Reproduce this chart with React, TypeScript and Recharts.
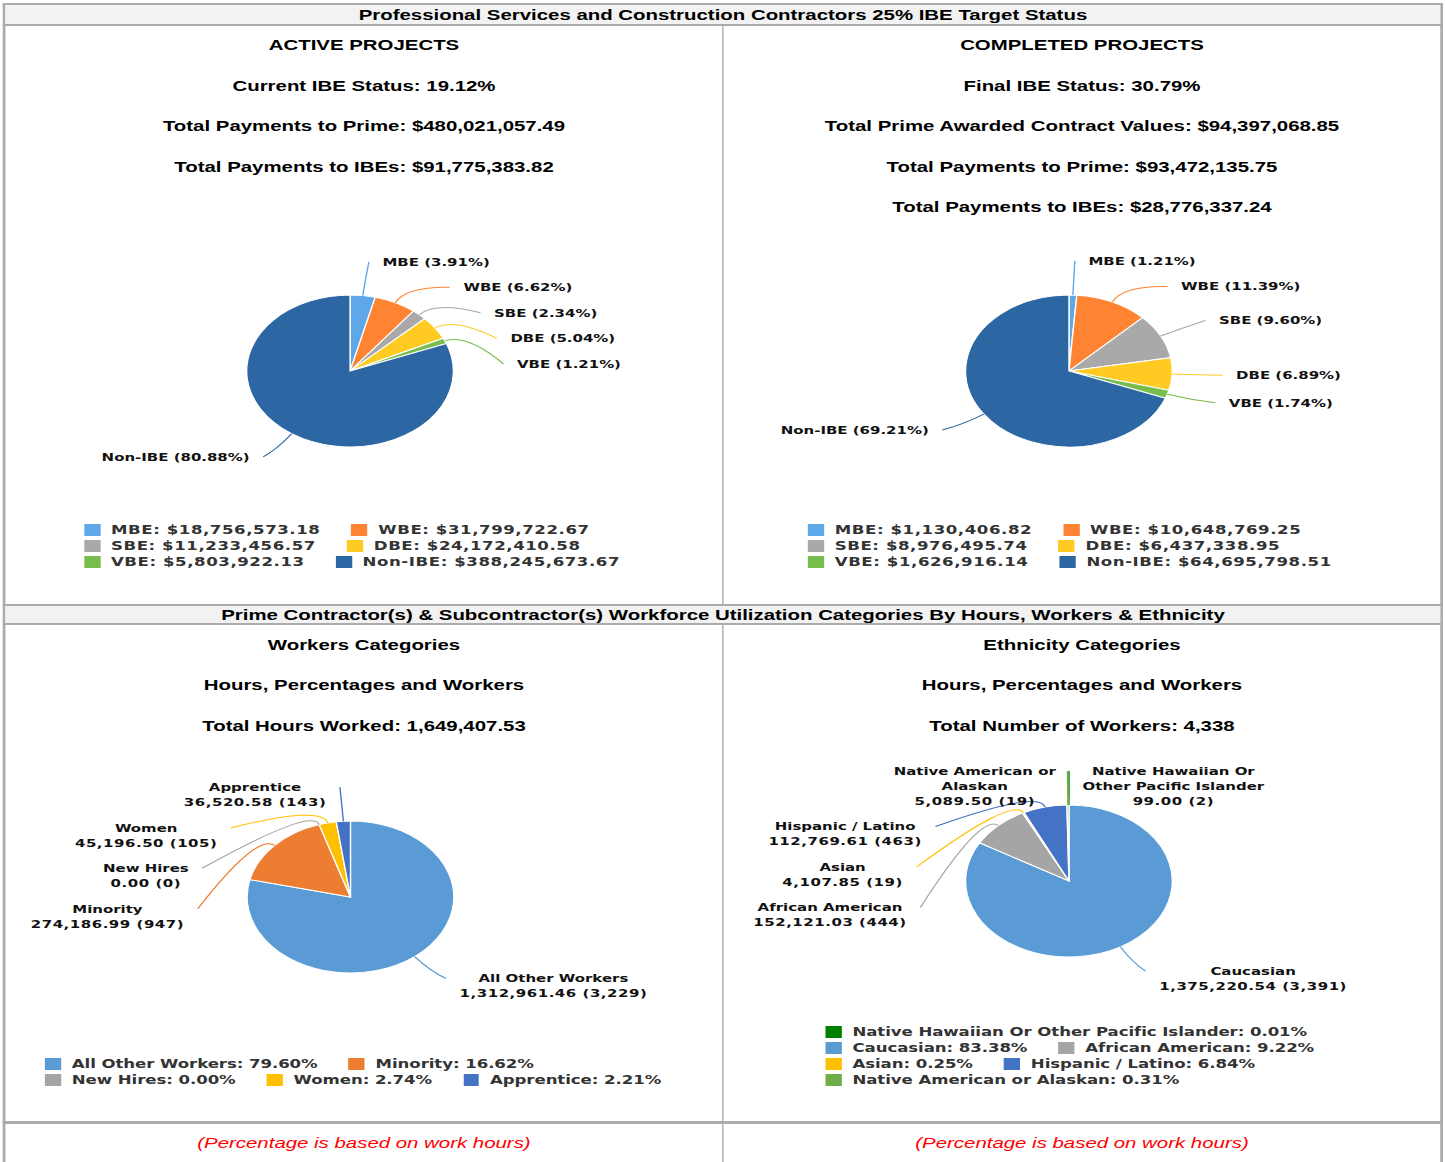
import React from "react";
import { PieChart, Pie, Cell, Legend } from "recharts";

// the whole sheet is drawn narrow and stretched sideways, like the source image
const SX = 1.36;
const W = 1445 / SX;
const RAD = Math.PI / 180;
const LRX = 113; // label ring, horizontal radius
const LRY_TOP = 110; // label ring, vertical radius above centre
const LRY_BOT = 104; // label ring, vertical radius below centre
const LH = 15; // label line height

const ibeNames = ["MBE", "WBE", "SBE", "DBE", "VBE", "Non-IBE"];
const ibeColors = ["#5ea7e8", "#fe8433", "#a9a9a9", "#ffca21", "#76bd4b", "#2d67a3"];

const activeAmounts = [18756573.18, 31799722.67, 11233456.57, 24172410.58, 5803922.13, 388245673.67];
const activePct = ["3.91%", "6.62%", "2.34%", "5.04%", "1.21%", "80.88%"];

const completedAmounts = [1130406.82, 10648769.25, 8976495.74, 6437338.95, 1626916.14, 64695798.51];
const completedPct = ["1.21%", "11.39%", "9.60%", "6.89%", "1.74%", "69.21%"];

const workerNames = ["All Other Workers", "Minority", "New Hires", "Women", "Apprentice"];
const workerHours = [1312961.46, 274186.99, 0, 45196.5, 36520.58];
const workerCounts = [3229, 947, 0, 105, 143];
const workerPct = ["79.60%", "16.62%", "0.00%", "2.74%", "2.21%"];
const workerColors = ["#5b9bd5", "#ed7d31", "#a5a5a5", "#ffc000", "#4472c4"];

const ethnicNames = [
  "Native Hawaiian Or Other Pacific Islander",
  "Caucasian",
  "African American",
  "Asian",
  "Hispanic / Latino",
  "Native American or Alaskan",
];
const ethnicHours = [99.0, 1375220.54, 152121.03, 4107.85, 112769.61, 5089.5];
const ethnicCounts = [2, 3391, 444, 19, 463, 19];
const ethnicPct = ["0.01%", "83.38%", "9.22%", "0.25%", "6.84%", "0.31%"];
const ethnicColors = ["#008000", "#5b9bd5", "#a5a5a5", "#ffc000", "#4472c4", "#70ad47"];

const money = (v: number) =>
  v.toLocaleString("en-US", { minimumFractionDigits: 2, maximumFractionDigits: 2 });
const count = (v: number) => v.toLocaleString("en-US");

function textWidth(s: string, size: number, spacing = 0) {
  let w = 0;
  for (const ch of s) {
    if (/[0-9]/.test(ch)) w += 0.696;
    else if (ch === " ") w += 0.348;
    else if (ch === "," || ch === ".") w += 0.38;
    else if (ch === "(" || ch === ")") w += 0.457;
    else if (ch === "%") w += 1.002;
    else if (ch === "/") w += 0.365;
    else if ("iljt".includes(ch)) w += 0.38;
    else if ("mw".includes(ch)) w += 0.98;
    else if ("rf".includes(ch)) w += 0.47;
    else if (ch === "I") w += 0.372;
    else if ("MW".includes(ch)) w += 1.03;
    else if (ch >= "A" && ch <= "Z") w += 0.77;
    else w += 0.66;
  }
  return w * size + spacing * s.length;
}

function wrapName(name: string, max = 22) {
  const out: string[] = [];
  let cur = "";
  name.split(" ").forEach((wd) => {
    const next = cur ? cur + " " + wd : wd;
    if (next.length > max && cur) {
      out.push(cur);
      cur = wd;
    } else cur = next;
  });
  if (cur) out.push(cur);
  return out;
}

type Slot = { dx: number; dy: number; side: number; lines: string[] };

const ringX = (dy: number, side: number) => {
  const ry = dy < 0 ? LRY_TOP : LRY_BOT;
  const t = dy / ry;
  return side * LRX * Math.sqrt(Math.max(0, 1 - t * t));
};

// spread the labels around a ring and push them apart on each side
function layoutLabels(values: number[], lines: string[][]): Slot[] {
  const total = values.reduce((a, b) => a + b, 0);
  let acc = 0;
  const slots = values.map((v, i) => {
    const phi = ((acc + v / 2) / total) * 2 * Math.PI;
    acc += v;
    const c = Math.cos(phi);
    return {
      dx: LRX * Math.sin(phi),
      dy: -(c > 0 ? LRY_TOP : LRY_BOT) * c,
      side: Math.sin(phi) >= 0 ? 1 : -1,
      lines: lines[i],
    };
  });
  [1, -1].forEach((side) => {
    const group = slots.filter((s) => s.side === side).sort((a, b) => a.dy - b.dy);
    for (let k = 1; k < group.length; k++) {
      const prev = group[k - 1];
      const minY = prev.dy + prev.lines.length * LH + 10.5;
      if (group[k].dy < minY) {
        group[k].dy = minY;
        group[k].dx = ringX(minY, side);
      }
    }
  });
  return slots;
}

const makeLabel = (slots: Slot[], colors: string[]) => (props: any) => {
  const { cx, cy, midAngle, outerRadius, index } = props;
  const s = slots[index];
  const a = -midAngle * RAD;
  const x0 = cx + outerRadius * Math.cos(a);
  const y0 = cy + outerRadius * Math.sin(a);
  const x1 = cx + (outerRadius + 18) * Math.cos(a);
  const y1 = cy + (outerRadius + 18) * Math.sin(a);
  const ex = cx + s.dx;
  const ey = cy + s.dy;
  const single = s.lines.length === 1;
  const spacingOf = (k: number) => (!single && k === s.lines.length - 1 ? 0.4 : 0);
  const blockW = Math.max(...s.lines.map((l, k) => textWidth(l, 11, spacingOf(k))));
  const tx = single ? ex + s.side * 10 : ex + s.side * (10 + blockW / 2);
  return (
    <g key={`lab-${index}`}>
      <path
        d={`M${x0},${y0} Q${x1},${y1} ${ex},${ey}`}
        fill="none"
        stroke={colors[index]}
        strokeWidth={1}
      />
      {s.lines.map((l, k) => (
        <text
          key={k}
          x={tx}
          y={ey + k * LH}
          textAnchor={single ? (s.side > 0 ? "start" : "end") : "middle"}
          dominantBaseline="central"
          fontFamily="DejaVu Sans"
          fontWeight="bold"
          fontSize={11}
          letterSpacing={spacingOf(k)}
          fill="#111"
        >
          {l}
        </text>
      ))}
    </g>
  );
};

function LegendBox({
  items,
  width,
  spacing,
}: {
  items: { label: string; color: string }[];
  width: number;
  spacing: number;
}) {
  return (
    <div
      style={{
        width,
        display: "flex",
        flexWrap: "wrap",
        columnGap: 22.8,
        fontFamily: "DejaVu Sans",
        fontWeight: "bold",
        fontSize: 12.2,
        letterSpacing: spacing,
        color: "#333",
      }}
    >
      {items.map((it) => (
        <div
          key={it.label}
          style={{ display: "flex", alignItems: "center", height: 16, whiteSpace: "nowrap" }}
        >
          <span
            style={{ display: "inline-block", width: 11.8, height: 12, background: it.color, marginRight: 8 }}
          />
          {it.label}
        </div>
      ))}
    </div>
  );
}

type BlockProps = {
  left: number;
  top: number;
  height: number;
  cx: number;
  cy: number;
  names: string[];
  values: number[];
  colors: string[];
  labelLines: string[][];
  legendLabels: string[];
  legendLeft: number;
  legendTop: number;
  legendWidth: number;
  legendSpacing: number;
};

function PieBlock(p: BlockProps) {
  const data = p.names.map((name, i) => ({ name, value: p.values[i] }));
  const slots = layoutLabels(p.values, p.labelLines);
  const items = p.legendLabels.map((label, i) => ({ label, color: p.colors[i] }));
  return (
    <div style={{ position: "absolute", left: p.left, top: p.top }}>
      <PieChart width={531} height={p.height} margin={{ top: 0, right: 0, bottom: 0, left: 0 }}>
        <Pie
          data={data}
          dataKey="value"
          nameKey="name"
          cx={p.cx}
          cy={p.cy}
          outerRadius={76}
          startAngle={90}
          endAngle={-270}
          stroke="#fff"
          strokeWidth={1}
          label={makeLabel(slots, p.colors)}
          labelLine={false}
          isAnimationActive={false}
        >
          {data.map((d, i) => (
            <Cell key={`cell-${i}`} fill={p.colors[i]} />
          ))}
        </Pie>
        <Legend
          content={() => <LegendBox items={items} width={p.legendWidth} spacing={p.legendSpacing} />}
          wrapperStyle={{ left: p.legendLeft, top: p.legendTop, width: p.legendWidth }}
        />
      </PieChart>
    </div>
  );
}

const GREY = "#ababab";

const Bar = ({ l, t, w, h, c = GREY }: { l: number; t: number; w: number; h: number; c?: string }) => (
  <div style={{ position: "absolute", left: l, top: t, width: w, height: h, background: c }} />
);

const Txt = ({
  x0,
  x1,
  y,
  children,
  style,
}: {
  x0: number;
  x1: number;
  y: number;
  children: React.ReactNode;
  style?: React.CSSProperties;
}) => (
  <div
    style={{
      position: "absolute",
      left: x0,
      width: x1 - x0,
      top: y - 10,
      lineHeight: "20px",
      textAlign: "center",
      fontWeight: "bold",
      fontSize: 15,
      whiteSpace: "nowrap",
      ...style,
    }}
  >
    {children}
  </div>
);

const L0 = 4.4;
const MID0 = 530.9;
const MID1 = 532.4;
const R0 = 1058.8;

export default function App() {
  const ibeLabels = (pct: string[]) => ibeNames.map((n, i) => [`${n} (${pct[i]})`]);
  const footer: React.CSSProperties = { fontWeight: "normal", fontStyle: "italic", color: "#ff0000" };
  return (
    <div
      style={{
        position: "absolute",
        left: 0,
        top: 0,
        width: W,
        height: 1162,
        overflow: "hidden",
        transform: `scaleX(${SX})`,
        transformOrigin: "0 0",
        background: "#fff",
        fontFamily: '"Liberation Sans", Arial, sans-serif',
        color: "#000",
      }}
    >
      {/* frame */}
      <Bar l={2.2} t={3} w={2.2} h={1159} />
      <Bar l={R0} t={3} w={2.2} h={1159} />
      <Bar l={2.2} t={3} w={R0} h={2} />
      <Bar l={L0} t={5} w={R0 - L0} h={19} c="#f2f2f2" />
      <Bar l={2.2} t={24} w={R0} h={2} />
      <Bar l={MID0} t={26} w={1.5} h={578} />
      <Bar l={2.2} t={604} w={R0} h={2} />
      <Bar l={L0} t={606} w={R0 - L0} h={17} c="#f2f2f2" />
      <Bar l={2.2} t={623} w={R0} h={2} />
      <Bar l={MID0} t={625} w={1.5} h={497} />
      <Bar l={2.2} t={1121} w={R0} h={3} />
      <Bar l={MID0} t={1124} w={1.5} h={38} />

      <Txt x0={L0} x1={R0} y={15}>
        Professional Services and Construction Contractors 25% IBE Target Status
      </Txt>
      <Txt x0={L0} x1={R0} y={615}>
        Prime Contractor(s) &amp; Subcontractor(s) Workforce Utilization Categories By Hours, Workers &amp; Ethnicity
      </Txt>

      <Txt x0={L0} x1={MID0} y={45}>ACTIVE PROJECTS</Txt>
      <Txt x0={L0} x1={MID0} y={86}>Current IBE Status: 19.12%</Txt>
      <Txt x0={L0} x1={MID0} y={126}>Total Payments to Prime: $480,021,057.49</Txt>
      <Txt x0={L0} x1={MID0} y={167}>Total Payments to IBEs: $91,775,383.82</Txt>

      <Txt x0={MID1} x1={R0} y={45}>COMPLETED PROJECTS</Txt>
      <Txt x0={MID1} x1={R0} y={86}>Final IBE Status: 30.79%</Txt>
      <Txt x0={MID1} x1={R0} y={126}>Total Prime Awarded Contract Values: $94,397,068.85</Txt>
      <Txt x0={MID1} x1={R0} y={167}>Total Payments to Prime: $93,472,135.75</Txt>
      <Txt x0={MID1} x1={R0} y={207}>Total Payments to IBEs: $28,776,337.24</Txt>

      <Txt x0={L0} x1={MID0} y={645}>Workers Categories</Txt>
      <Txt x0={L0} x1={MID0} y={685}>Hours, Percentages and Workers</Txt>
      <Txt x0={L0} x1={MID0} y={726}>Total Hours Worked: 1,649,407.53</Txt>

      <Txt x0={MID1} x1={R0} y={645}>Ethnicity Categories</Txt>
      <Txt x0={MID1} x1={R0} y={685}>Hours, Percentages and Workers</Txt>
      <Txt x0={MID1} x1={R0} y={726}>Total Number of Workers: 4,338</Txt>

      <Txt x0={L0} x1={MID0} y={1143} style={footer}>(Percentage is based on work hours)</Txt>
      <Txt x0={MID1} x1={R0} y={1143} style={footer}>(Percentage is based on work hours)</Txt>

      <PieBlock
        left={0}
        top={230}
        height={360}
        cx={257.4}
        cy={141}
        names={ibeNames}
        values={activeAmounts}
        colors={ibeColors}
        labelLines={ibeLabels(activePct)}
        legendLabels={ibeNames.map((n, i) => `${n}: $${money(activeAmounts[i])}`)}
        legendLeft={61.8}
        legendTop={292}
        legendWidth={470}
        legendSpacing={0.42}
      />
      <PieBlock
        left={531}
        top={230}
        height={360}
        cx={255}
        cy={141}
        names={ibeNames}
        values={completedAmounts}
        colors={ibeColors}
        labelLines={ibeLabels(completedPct)}
        legendLabels={ibeNames.map((n, i) => `${n}: $${money(completedAmounts[i])}`)}
        legendLeft={63}
        legendTop={292}
        legendWidth={470}
        legendSpacing={0.42}
      />
      <PieBlock
        left={0}
        top={760}
        height={350}
        cx={257.7}
        cy={137}
        names={workerNames}
        values={workerHours}
        colors={workerColors}
        labelLines={workerNames.map((n, i) => [
          ...wrapName(n),
          `${money(workerHours[i])} (${count(workerCounts[i])})`,
        ])}
        legendLabels={workerNames.map((n, i) => `${n}: ${workerPct[i]}`)}
        legendLeft={33}
        legendTop={296}
        legendWidth={470}
        legendSpacing={-0.05}
      />
      <PieBlock
        left={531}
        top={740}
        height={370}
        cx={255}
        cy={141}
        names={ethnicNames}
        values={ethnicHours}
        colors={ethnicColors}
        labelLines={ethnicNames.map((n, i) => [
          ...wrapName(n),
          `${money(ethnicHours[i])} (${count(ethnicCounts[i])})`,
        ])}
        legendLabels={ethnicNames.map((n, i) => `${n}: ${ethnicPct[i]}`)}
        legendLeft={76}
        legendTop={284}
        legendWidth={420}
        legendSpacing={-0.05}
      />
    </div>
  );
}
